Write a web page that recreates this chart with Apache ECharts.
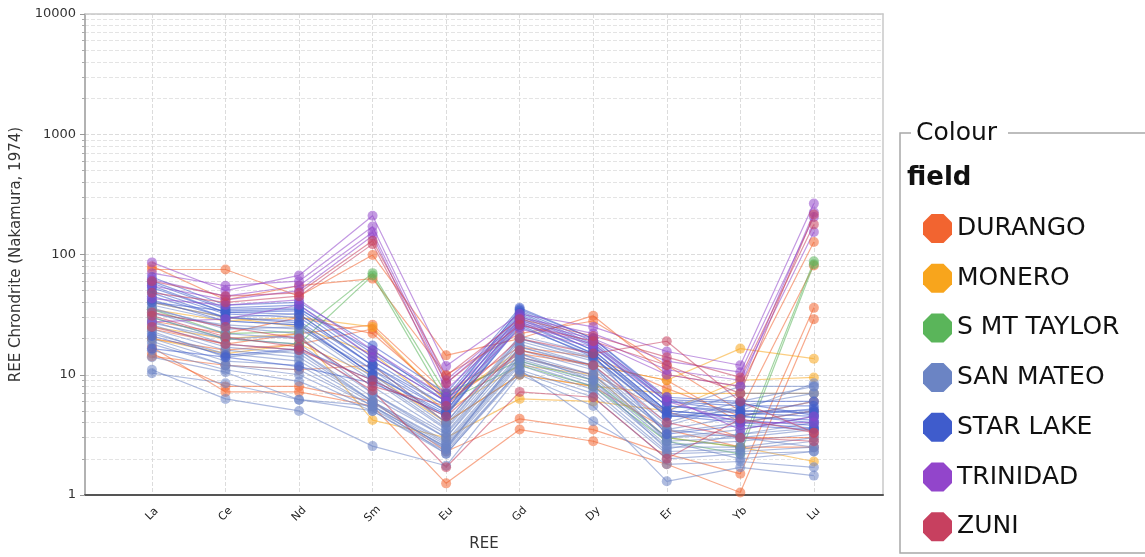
<!DOCTYPE html>
<html>
<head>
<meta charset="utf-8">
<script src="https://cdn.jsdelivr.net/npm/echarts@6/dist/echarts.min.js"></script>
<style>
  html, body { margin: 0; padding: 0; background: #fff; }
  #chart { width: 1145px; height: 557px; }
</style>
</head>
<body>
<div id="chart"></div>
<script>
// Rare earth elements along the x axis
const elements = ['La', 'Ce', 'Nd', 'Sm', 'Eu', 'Gd', 'Dy', 'Er', 'Yb', 'Lu'];

// Fields and their colours
const fields = ['DURANGO', 'MONERO', 'S MT TAYLOR', 'SAN MATEO', 'STAR LAKE', 'TRINIDAD', 'ZUNI'];
const fieldColors = ['#f26430', '#f8a51c', '#5ab55a', '#6b84c4', '#3f5ccc', '#9245cb', '#c7405f'];

// Chondrite-normalised REE, one row per sample (La..Lu)
const durango = [
  [75, 75, 45, 99, 14.5, 20, 31, 10, 8, 127],
  [80, 42, 55, 63, 10, 22, 28, 12, 5, 81],
  [24, 18, 22, 26, 7, 17, 14, 7.7, 4.5, 6],
  [20, 16, 18, 24, 6, 15, 12, 9, 4, 5],
  [17, 7.2, 7.2, 5.5, 1.25, 3.5, 2.8, 1.8, 1.05, 29],
  [15, 8, 8, 6, 2.3, 4.3, 3.5, 2.2, 1.5, 36],
  [28, 22, 30, 22, 6.5, 14, 10, 5, 3, 3],
  [14.2, 12, 11, 12, 4, 10, 8, 3.5, 2.5, 2.5]
];
const monero = [
  [35, 28, 30, 25, 6, 16, 12, 9, 16.5, 13.6],
  [25, 20, 22, 4.2, 3, 6.3, 6, 5, 9, 9.5],
  [40, 30, 25, 15, 5, 12, 10, 3, 2.5, 1.9],
  [20, 15, 18, 10, 4, 10, 8, 7, 7, 7]
];
const smtTaylor = [
  [35, 22, 22.8, 70, 7, 13, 9, 3, 2.5, 88],
  [30, 20, 18, 67, 6, 12, 8, 2.8, 2.2, 83]
];
const sanMateo = [
  [40, 30, 32, 12, 4, 20, 14, 4.5, 5, 8.5],
  [38, 28, 26, 10, 3.8, 19, 13, 4, 6, 8],
  [35, 25, 22, 9, 3.5, 18, 12, 3.8, 5.5, 7],
  [33, 22, 20, 8, 3.3, 17, 11.5, 3.5, 4.5, 6],
  [30, 20, 18, 7, 3.2, 16, 11, 3.3, 4, 5],
  [28, 18, 16, 6.5, 3, 15, 10, 3, 3.5, 4.5],
  [26, 17, 15, 6, 2.8, 14, 9.5, 3, 3.2, 4],
  [24, 16, 14, 6, 2.7, 13.5, 9, 2.8, 3, 3.5],
  [22, 15, 13, 5.8, 2.6, 13, 8.5, 2.6, 2.8, 3.2],
  [20, 13, 12, 5.5, 2.5, 12.5, 8, 2.5, 2.5, 3],
  [18, 12, 10, 5.2, 2.4, 12, 7.5, 2.3, 2.4, 2.8],
  [16, 11, 8.8, 5, 2.3, 11, 7, 2.2, 2.3, 2.5],
  [14, 10.5, 6.2, 5, 2.2, 10.5, 6.5, 2, 2.2, 2.3],
  [11, 6.3, 5, 2.55, 1.75, 10, 5.5, 1.3, 1.7, 1.45],
  [10.3, 8.5, 6.2, 5.5, 2.2, 11, 4.1, 1.8, 1.9, 1.7],
  [32, 26, 24, 11, 4, 21, 15, 5, 8, 8],
  [36, 24, 25, 9.5, 3.6, 20, 13.5, 4.5, 7, 7],
  [27, 20, 21, 7, 3, 17, 12, 2.8, 2, 2.3],
  [19, 12, 11, 5.5, 2.5, 14, 10, 3.5, 3, 2.5],
  [23, 14, 16, 6, 2.4, 15, 9, 2.4, 3.2, 3.6]
];
const starLake = [
  [65, 38, 40, 17.5, 7, 36, 20, 6.5, 6, 6],
  [60, 36, 38, 15, 6.5, 34, 19, 6, 5.5, 5.5],
  [58, 35, 36, 14, 6, 33, 18, 6, 5, 5],
  [55, 33, 34, 13, 5.5, 32, 17.5, 5.5, 5, 4.8],
  [53, 33, 32, 12, 5.5, 31, 17, 5.5, 4.8, 4.5],
  [50, 32, 30, 12, 5, 30, 16, 5, 4.5, 4.2],
  [48, 30, 28, 11, 5, 29, 16, 5, 4.5, 4],
  [45, 30, 27, 10, 4.8, 28, 15, 4.8, 4.2, 3.8],
  [42, 28, 26, 10, 4.6, 27, 15, 4.6, 4, 3.6],
  [21, 14.5, 16.5, 9, 4.5, 26, 14, 4.5, 4.6, 5.2],
  [16.5, 14, 11.7, 8.5, 4.7, 25, 14.5, 3.2, 3.8, 3.5],
  [40, 34, 35, 16, 6, 35, 20, 6.2, 5.8, 4.6]
];
const trinidad = [
  [86, 50, 67, 210, 11.8, 32, 25, 15.6, 12, 265],
  [70, 55, 60, 171, 9, 30, 22, 13, 10.5, 205],
  [62, 45, 55, 153, 8.5, 28, 20, 11, 9, 154],
  [55, 42, 50, 143, 7.5, 27, 19, 10, 8, 224],
  [43, 38, 42, 16, 6.5, 26, 18, 6.5, 3.5, 4.5],
  [27.5, 29, 38, 14, 6, 24, 17, 6, 4, 4]
];
const zuni = [
  [60, 45, 48, 130, 9.8, 29, 21, 14, 9.5, 178],
  [48, 40, 45, 122, 8.5, 26, 19, 12, 7, 215],
  [33, 25, 20, 8, 5.5, 20, 15, 19, 6, 3.3],
  [31, 20.7, 17, 7.4, 1.7, 7.2, 6.5, 2.0, 4.3, 3.3],
  [25, 18, 16, 9, 4.5, 16, 12, 4, 3, 2.8]
];

// Y axis decades and the in-between values for the minor grid
const yTicks = [1, 10, 100, 1000, 10000];
const yMinorValues = [
  2, 3, 4, 5, 6, 7, 8, 9,
  20, 30, 40, 50, 60, 70, 80, 90,
  200, 300, 400, 500, 600, 700, 800, 900,
  2000, 3000, 4000, 5000, 6000, 7000, 8000, 9000
];

const samplesByField = [durango, monero, smtTaylor, sanMateo, starLake, trinidad, zuni];
const elementIdx = elements.map((_, i) => i);
const octagon = 'path://M29.3,0 L70.7,0 L100,29.3 L100,70.7 L70.7,100 L29.3,100 L0,70.7 L0,29.3 Z';

const series = [];
samplesByField.forEach((samples, fi) => {
  const color = fieldColors[fi];
  samples.forEach(vals => {
    series.push({
      type: 'line',
      name: fields[fi],
      data: vals.map((v, i) => [i, v]),
      xAxisIndex: 0,
      yAxisIndex: 0,
      symbol: 'circle',
      symbolSize: 10,
      showAllSymbol: true,
      lineStyle: { width: 1.2, color: color, opacity: 0.55 },
      itemStyle: { color: color, opacity: 0.55 },
      emphasis: { disabled: true },
      silent: true
    });
  });
});

const chart = echarts.init(document.getElementById('chart'), null, { renderer: 'canvas' });
chart.setOption({
  animation: false,
  backgroundColor: '#fff',
  textStyle: { fontFamily: 'DejaVu Sans, sans-serif' },
  grid: { left: 85, right: 262, top: 14, bottom: 60, containLabel: false },
  xAxis: [
    {
      type: 'value',
      min: -0.91,
      max: 9.94,
      position: 'bottom',
      axisLine: { show: true, onZero: false, lineStyle: { color: '#555', width: 2 } },
      axisTick: { show: false, customValues: elementIdx },
      axisLabel: {
        customValues: elementIdx,
        formatter: v => elements[Math.round(v)],
        rotate: 45,
        align: 'center',
        verticalAlign: 'middle',
        margin: 19,
        fontSize: 11,
        color: '#222'
      },
      splitLine: { show: true, lineStyle: { type: 'dashed', color: '#dcdcdc', width: 1 } },
      name: 'REE',
      nameLocation: 'middle',
      nameGap: 42,
      nameTextStyle: { fontSize: 15, color: '#333' }
    },
    {
      type: 'value',
      min: -0.91,
      max: 9.94,
      position: 'top',
      axisLine: { show: true, onZero: false, lineStyle: { color: '#c8c8c8', width: 1.5 } },
      axisTick: { show: false },
      axisLabel: { show: false },
      splitLine: { show: false }
    }
  ],
  yAxis: [
    {
      type: 'log',
      logBase: 10,
      min: 1,
      max: 10000,
      splitNumber: 4,
      position: 'left',
      axisLine: { show: true, onZero: false, lineStyle: { color: '#999', width: 1.5 } },
      axisTick: { show: true, length: 5, lineStyle: { color: '#999' } },
      axisLabel: {
        fontSize: 13,
        color: '#333',
        margin: 9,
        formatter: v => String(yTicks.find(t => Math.abs(t - v) < t * 1e-6) ?? v)
      },
      splitLine: { show: true, lineStyle: { type: 'dashed', color: '#dcdcdc', width: 1 } },
      name: 'REE Chrondrite (Nakamura, 1974)',
      nameLocation: 'middle',
      nameGap: 60,
      nameTextStyle: { fontSize: 15, color: '#333' }
    },
    {
      type: 'log',
      logBase: 10,
      min: 1,
      max: 10000,
      position: 'left',
      axisLine: { show: false, onZero: false },
      axisTick: { show: true, length: 3, customValues: yMinorValues, lineStyle: { color: '#aaa' } },
      axisLabel: { show: false },
      splitLine: { show: true, lineStyle: { type: 'dashed', color: '#e4e4e4', width: 1 } }
    },
    {
      type: 'log',
      logBase: 10,
      min: 1,
      max: 10000,
      position: 'right',
      axisLine: { show: true, onZero: false, lineStyle: { color: '#c8c8c8', width: 1.5 } },
      axisTick: { show: false },
      axisLabel: { show: false },
      splitLine: { show: false }
    }
  ],
  legend: {
    orient: 'vertical',
    left: 918,
    top: 209,
    itemWidth: 29,
    itemHeight: 29,
    itemGap: 20.7,
    selectedMode: false,
    textStyle: { fontSize: 25, color: '#111', fontFamily: 'DejaVu Sans, sans-serif' },
    data: fields.map((name, i) => ({
      name: name,
      icon: octagon,
      itemStyle: { color: fieldColors[i], opacity: 1 }
    }))
  },
  graphic: [
    {
      type: 'rect',
      shape: { x: 900, y: 133, width: 260, height: 420 },
      style: { fill: 'none', stroke: '#a8a8a8', lineWidth: 1.5 },
      silent: true
    },
    {
      type: 'rect',
      shape: { x: 911, y: 125, width: 97, height: 18 },
      style: { fill: '#fff' },
      silent: true
    },
    {
      type: 'text',
      left: 916,
      top: 121,
      style: { text: 'Colour', fontSize: 25, fill: '#111', fontFamily: 'DejaVu Sans, sans-serif' },
      silent: true
    },
    {
      type: 'text',
      left: 907,
      top: 165,
      style: { text: 'field', fontSize: 26, fontWeight: 'bold', fill: '#111', fontFamily: 'DejaVu Sans, sans-serif' },
      silent: true
    }
  ],
  series: series
});
</script>
</body>
</html>
